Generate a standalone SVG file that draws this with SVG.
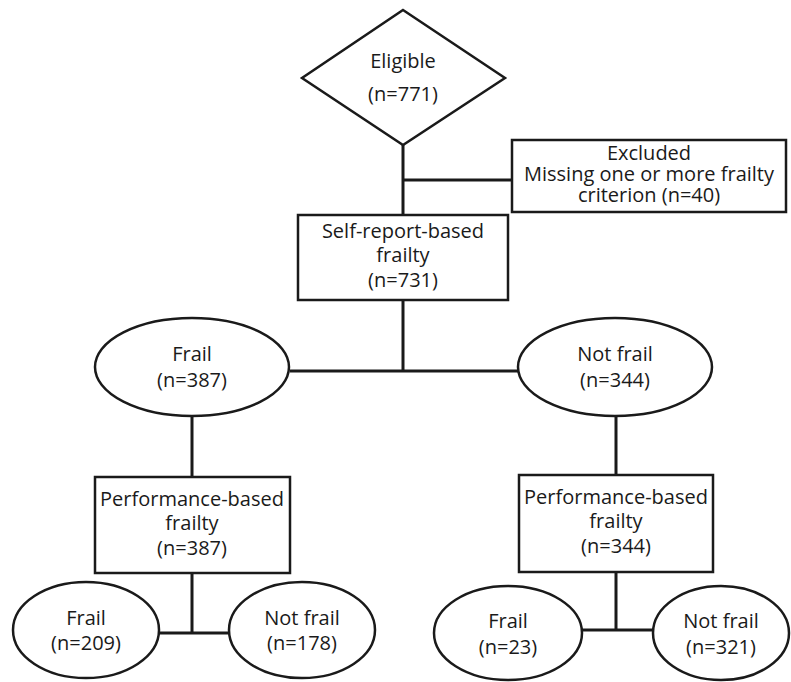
<svg xmlns="http://www.w3.org/2000/svg" width="791" height="682" viewBox="0 0 791 682">
<style>
.s{fill:#fff;stroke:#1a1a1a;stroke-width:2.5}
.c{fill:none;stroke:#1a1a1a;stroke-width:3}
text{font-family:"Open Sans","Liberation Sans",sans-serif;font-size:20px;fill:#1a1a1a;text-anchor:middle}
</style>
<rect width="791" height="682" fill="#fff"/>
<g id="connectors">
<path class="c" d="M403,144V215M403,180H512"/>
<path class="c" d="M403,300V371M290,371H518"/>
<path class="c" d="M192,417V477M616,416V475"/>
<path class="c" d="M192,573V633M158,633H228"/>
<path class="c" d="M616,572V630M582,630H653"/>
</g>
<g id="eligible">
<polygon class="s" points="403,10 505,78 403,145 302,78"/>
<text x="403" y="68">Eligible</text>
<text x="403" y="101">(n=771)</text>
</g>
<g id="excluded">
<rect class="s" x="512" y="140" width="274" height="72"/>
<text x="649" y="160">Excluded</text>
<text x="649" y="181">Missing one or more frailty</text>
<text x="649" y="202">criterion (n=40)</text>
</g>
<g id="selfreport">
<rect class="s" x="298" y="215" width="210" height="85"/>
<text x="403" y="238">Self-report-based</text>
<text x="403" y="262">frailty</text>
<text x="403" y="287">(n=731)</text>
</g>
<g id="frail1">
<ellipse class="s" cx="192" cy="367" rx="97" ry="49"/>
<text x="192" y="361">Frail</text>
<text x="192" y="387">(n=387)</text>
</g>
<g id="notfrail1">
<ellipse class="s" cx="615" cy="367" rx="97" ry="49"/>
<text x="615" y="361">Not frail</text>
<text x="615" y="387">(n=344)</text>
</g>
<g id="perf1">
<rect class="s" x="95" y="477" width="195" height="96"/>
<text x="192" y="506">Performance-based</text>
<text x="192" y="530">frailty</text>
<text x="192" y="555">(n=387)</text>
</g>
<g id="perf2">
<rect class="s" x="519" y="475" width="194" height="97"/>
<text x="616" y="504">Performance-based</text>
<text x="616" y="528">frailty</text>
<text x="616" y="553">(n=344)</text>
</g>
<g id="frail2">
<ellipse class="s" cx="86" cy="630" rx="73" ry="48"/>
<text x="86" y="625">Frail</text>
<text x="86" y="650">(n=209)</text>
</g>
<g id="notfrail2">
<ellipse class="s" cx="302" cy="630" rx="73" ry="48"/>
<text x="302" y="625">Not frail</text>
<text x="302" y="650">(n=178)</text>
</g>
<g id="frail3">
<ellipse class="s" cx="508" cy="633" rx="74" ry="47"/>
<text x="508" y="628">Frail</text>
<text x="508" y="654">(n=23)</text>
</g>
<g id="notfrail3">
<ellipse class="s" cx="721" cy="633" rx="68" ry="47"/>
<text x="721" y="628">Not frail</text>
<text x="721" y="654">(n=321)</text>
</g>
</svg>
